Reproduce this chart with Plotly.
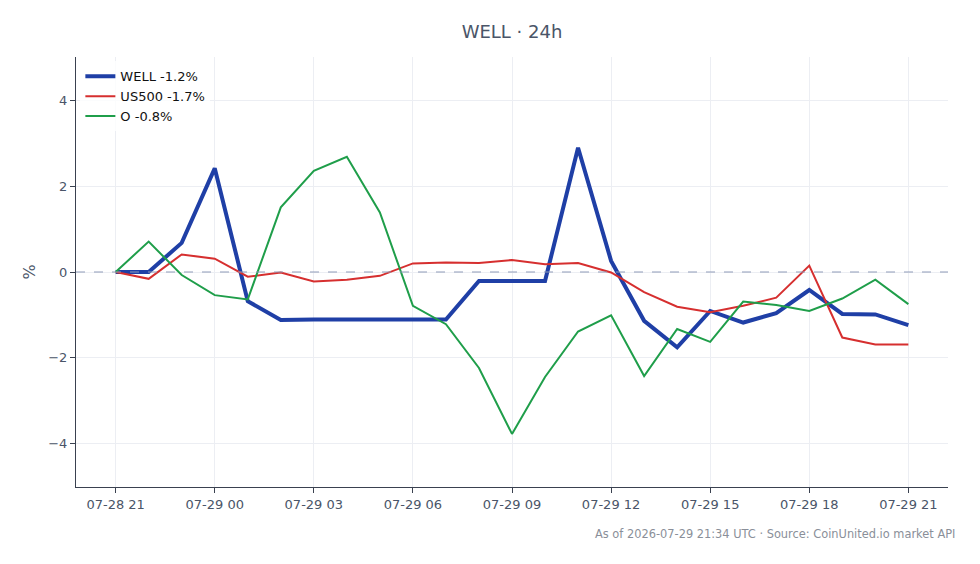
import plotly.graph_objects as go
import pandas as pd

times = pd.date_range("2026-07-28 21:00", "2026-07-29 21:00", freq="h")

well = [0.0, 0.0, 0.68, 2.42, -0.68, -1.12, -1.11, -1.11, -1.11, -1.11, -1.11, -0.21, -0.21, -0.21,
        2.9, 0.26, -1.14, -1.76, -0.91, -1.18, -0.96, -0.42, -0.98, -0.99, -1.24]
us500 = [0.0, -0.16, 0.41, 0.31, -0.11, -0.01, -0.22, -0.18, -0.09, 0.2, 0.22, 0.21, 0.28, 0.18,
         0.21, -0.01, -0.47, -0.81, -0.94, -0.79, -0.6, 0.15, -1.53, -1.69, -1.69]
o_vals = [0.0, 0.71, -0.07, -0.54, -0.64, 1.51, 2.36, 2.69, 1.39, -0.79, -1.22, -2.24, -3.78, -2.45,
          -1.39, -1.01, -2.43, -1.33, -1.63, -0.69, -0.77, -0.91, -0.62, -0.18, -0.75]

series = [
    ("WELL -1.2%", well, "#1f3fa6", 4),
    ("US500 -1.7%", us500, "#d62f2f", 2),
    ("O -0.8%", o_vals, "#1f9e4a", 2),
]

fig = go.Figure()
for name, vals, color, w in series:
    fig.add_trace(go.Scatter(x=times, y=vals, mode="lines", name=name,
                             line=dict(color=color, width=w)))

fig.add_hline(y=0, line=dict(color="#8f9bb8", width=1, dash="dash"))

font_family = "DejaVu Sans"
fig.update_layout(
    width=980, height=564,
    margin=dict(l=76, r=32, t=57, b=77),
    paper_bgcolor="white", plot_bgcolor="white",
    font=dict(family=font_family, size=13, color="#4a5568"),
    title=dict(text="WELL · 24h", x=0.5, xref="paper", y=1 - 32 / 564, yref="container",
               xanchor="center", yanchor="middle", font=dict(size=18, color="#4a5568")),
    legend=dict(x=0.005, y=0.99, xanchor="left", yanchor="top",
                bgcolor="rgba(255,255,255,0.8)", font=dict(size=13, color="#111111")),
    showlegend=True,
)
fig.update_xaxes(
    range=[times[0] - pd.Timedelta(minutes=72), times[-1] + pd.Timedelta(minutes=72)],
    tickformat="%m-%d %H", dtick=3 * 3600 * 1000, tick0=times[0],
    showline=True, linecolor="#3a4150", linewidth=1,
    ticks="outside", ticklen=5, tickcolor="#3a4150",
    showgrid=True, gridcolor="#eceef3", zeroline=False,
)
fig.update_yaxes(
    range=[-5.02, 5.02], dtick=2,
    title=dict(text="%", standoff=8),
    showline=True, linecolor="#3a4150", linewidth=1,
    ticks="outside", ticklen=5, tickcolor="#3a4150",
    showgrid=True, gridcolor="#eceef3", zeroline=False,
)
fig.add_annotation(text="As of 2026-07-29 21:34 UTC · Source: CoinUnited.io market API",
                   xref="paper", yref="paper", x=1.01, y=-0.088, xanchor="right", yanchor="top",
                   showarrow=False, font=dict(size=11.4, color="#8a8f99"))

fig.write_html("out.html")
